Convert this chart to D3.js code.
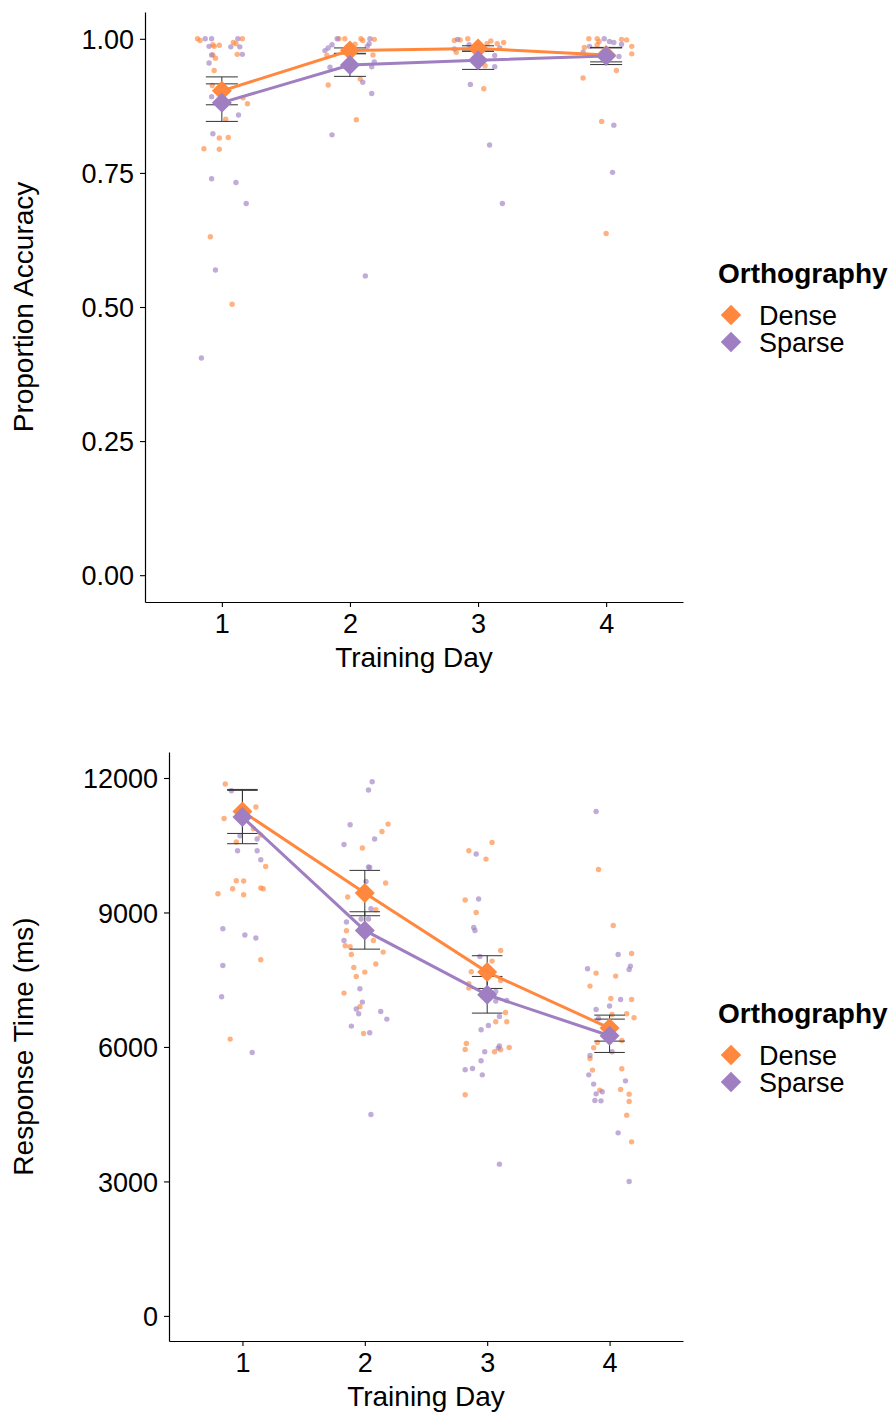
<!DOCTYPE html>
<html>
<head>
<meta charset="utf-8">
<script src="https://cdn.jsdelivr.net/npm/d3@7"></script>
<style>
  body { margin: 0; background: #fff; }
  text { font-family: "Liberation Sans", Arial, sans-serif; fill: #000; }
</style>
</head>
<body>
<script>
// categories
var days = [1, 2, 3, 4];
var groups = ["Dense", "Sparse"];
var colors = { Dense: "#FF883E", Sparse: "#9F7FC1" };

// accuracy means / standard errors
var accMeanDense = [0.903, 0.978, 0.982, 0.970];
var accSeDense = [0.026, 0.005, 0.005, 0.013];
var accMeanSparse = [0.881, 0.951, 0.960, 0.968];
var accSeSparse = [0.035, 0.021, 0.017, 0.016];

// response time means / standard errors
var rtMeanDense = [11254, 9433, 7670, 6420];
var rtSeDense = [491, 506, 365, 290];
var rtMeanSparse = [11129, 8599, 7164, 6249];
var rtSeSparse = [595, 417, 409, 372];

// individual participants: [day, jitter, value]
var accPtsDense = [
  [1,-0.19,1.00],[1,-0.17,0.997],[1,0.16,1.00],[1,0.09,0.993],[1,0.11,0.991],[1,-0.07,0.989],[1,-0.06,0.986],
  [1,-0.02,0.988],[1,-0.07,0.970],[1,-0.05,0.964],[1,0.12,0.971],[1,-0.06,0.941],[1,-0.075,0.913],[1,0.165,0.890],
  [1,0.20,0.879],[1,0.03,0.850],[1,-0.02,0.815],[1,0.05,0.816],[1,-0.14,0.795],[1,-0.02,0.794],[1,-0.09,0.631],[1,0.08,0.505],
  [2,-0.086,1.00],[2,-0.04,1.00],[2,0.086,1.00],[2,0.10,0.997],[2,0.19,0.999],[2,-0.18,0.969],[2,0.18,0.970],
  [2,0.08,0.925],[2,-0.17,0.914],[2,0.05,0.849],[2,-0.02,0.985],[2,0.04,0.990],
  [3,-0.185,0.997],[3,-0.14,0.998],[3,-0.08,1.00],[3,0.07,0.991],[3,0.10,0.996],[3,0.15,0.991],[3,0.20,0.993],
  [3,-0.17,0.975],[3,0.055,0.950],[3,0.045,0.907],
  [4,-0.135,1.00],[4,-0.07,1.00],[4,-0.055,0.995],[4,0.12,0.999],[4,0.16,0.998],[4,0.20,0.986],[4,0.20,0.972],
  [4,-0.17,0.984],[4,-0.07,0.989],[4,0.08,0.941],[4,-0.18,0.927],[4,-0.035,0.846],[4,0.00,0.637]
];
var accPtsSparse = [
  [1,-0.13,1.00],[1,-0.08,1.00],[1,0.125,1.00],[1,-0.10,0.986],[1,0.07,0.985],[1,0.14,0.985],[1,-0.08,0.970],
  [1,0.16,0.971],[1,-0.10,0.955],[1,-0.08,0.892],[1,0.13,0.858],[1,-0.07,0.823],[1,-0.08,0.739],[1,0.11,0.732],
  [1,0.19,0.693],[1,-0.05,0.569],[1,-0.16,0.405],
  [2,0.156,1.00],[2,-0.10,1.00],[2,0.15,0.991],[2,0.135,0.986],[2,-0.14,0.989],[2,-0.17,0.983],[2,-0.195,0.978],
  [2,-0.156,0.947],[2,0.19,0.957],[2,0.17,0.948],[2,0.10,0.919],[2,0.17,0.898],[2,-0.14,0.821],[2,0.12,0.558],
  [3,-0.16,0.999],[3,-0.07,0.989],[3,0.17,0.983],[3,-0.185,0.981],[3,0.13,0.969],[3,0.13,0.948],[3,0.015,0.978],
  [3,-0.06,0.915],[3,0.09,0.802],[3,0.19,0.693],
  [4,-0.015,1.00],[4,0.026,0.995],[4,0.06,0.993],[4,0.12,0.990],[4,-0.18,0.975],[4,-0.13,0.986],[4,0.10,0.967],
  [4,0.06,0.839],[4,0.05,0.751]
];
var rtPtsDense = [
  [1,-0.14,11865],[1,0.11,11352],[1,-0.15,11098],[1,0.09,10868],[1,0.15,10727],[1,-0.05,10571],[1,0.19,10027],
  [1,-0.05,9708],[1,0.01,9701],[1,-0.08,9529],[1,-0.20,9418],[1,0.01,9395],[1,0.15,9545],[1,0.17,9529],
  [1,0.15,7945],[1,-0.10,6175],
  [2,0.19,10972],[2,0.14,10808],[2,-0.02,10437],[2,0.17,9656],[2,-0.14,9344],[2,0.09,9060],[2,-0.15,8592],
  [2,0.07,8376],[2,-0.16,8257],[2,-0.12,8235],[2,-0.11,8063],[2,0.15,8116],[2,0.09,7849],[2,-0.09,7773],
  [2,0.00,7670],[2,-0.07,7572],[2,-0.17,7201],[2,-0.04,6896],[2,-0.01,6300],
  [3,-0.15,10377],[3,0.04,10563],[3,-0.01,10191],[3,-0.18,9277],[3,-0.09,9001],[3,0.11,8153],[3,0.04,7915],
  [3,-0.13,7677],[3,-0.15,7409],[3,-0.15,7313],[3,0.11,7483],[3,0.15,6769],[3,0.07,6561],[3,0.16,6561],
  [3,-0.17,6077],[3,-0.18,5943],[3,0.06,5892],[3,0.11,5936],[3,0.18,5988],[3,-0.18,4932],
  [4,-0.09,9960],[4,0.03,8710],[4,0.18,8085],[4,-0.11,7648],[4,0.05,7581],[4,-0.16,7358],[4,0.01,7082],
  [4,0.18,7059],[4,0.14,6740],[4,0.20,6650],[4,0.02,6724],[4,0.10,6144],[4,-0.10,6099],[4,-0.13,5981],
  [4,-0.16,5742],[4,-0.14,5483],[4,0.10,5512],[4,0.09,5050],[4,-0.08,5037],[4,0.16,4947],[4,0.16,4783],
  [4,0.14,4479],[4,0.18,3883]
];
var rtPtsSparse = [
  [1,-0.09,11716],[1,-0.02,10712],[1,0.12,10638],[1,-0.04,10377],[1,0.12,10377],[1,0.15,10176],[1,-0.16,8636],
  [1,0.02,8496],[1,0.11,8429],[1,-0.16,7818],[1,-0.17,7119],[1,0.08,5876],
  [2,0.06,11917],[2,0.03,11732],[2,-0.12,10957],[2,-0.17,10518],[2,0.08,10638],[2,0.04,10005],[2,0.03,10013],
  [2,0.01,9693],[2,0.05,9083],[2,-0.03,8853],[2,0.03,8853],[2,-0.15,8786],[2,-0.17,8376],[2,-0.04,7297],
  [2,-0.02,7001],[2,-0.07,6845],[2,-0.05,6740],[2,0.13,6791],[2,0.18,6621],[2,-0.11,6465],[2,0.04,6316],[2,0.05,4492],
  [3,-0.09,10303],[3,-0.07,9299],[3,-0.11,8666],[3,-0.10,8599],[3,-0.06,8019],[3,0.07,7238],[3,0.07,7023],
  [3,0.16,7037],[3,0.10,6680],[3,0.01,6479],[3,-0.05,6383],[3,-0.02,5892],[3,0.09,5974],[3,0.10,6025],
  [3,-0.05,5691],[3,-0.18,5490],[3,-0.12,5519],[3,-0.04,5378],[3,0.10,3385],
  [4,-0.11,11254],[4,0.07,8063],[4,0.17,7804],[4,0.16,7729],[4,-0.18,7744],[4,0.09,7059],[4,0.00,6912],
  [4,-0.11,6836],[4,-0.09,6635],[4,0.02,5892],[4,-0.16,5809],[4,-0.17,5378],[4,0.13,5244],[4,-0.13,5171],
  [4,-0.06,4999],[4,-0.11,4954],[4,-0.12,4805],[4,-0.07,4798],[4,0.07,4084],[4,0.16,2997]
];

// tick labels
var accTicks = [0, 0.25, 0.5, 0.75, 1];
var rtTicks = [0, 3000, 6000, 9000, 12000];

var svg = d3.select("body").append("svg")
    .attr("width", 892)
    .attr("height", 1414);

function drawPanel(p) {

    var x = d3.scaleLinear().domain([0.4, 4.6]).range([p.left, p.right]);
    var y = d3.scaleLinear().domain(p.yDomain).range([p.bottom, p.top]);
    var g = svg.append("g");

    // jittered participant points
    groups.forEach(function (grp) {
        g.append("g").selectAll("circle")
            .data(p.pts[grp])
            .enter().append("circle")
            .attr("cx", function (d) { return x(d[0] + d[1]); })
            .attr("cy", function (d) { return y(d[2]); })
            .attr("r", 2.7)
            .attr("fill", colors[grp])
            .attr("fill-opacity", 0.65);
    });

    // summary rows
    var summ = {};
    groups.forEach(function (grp) {
        summ[grp] = days.map(function (day, i) {
            return { day: day, m: p.mean[grp][i], se: p.se[grp][i] };
        });
    });

    // error bars
    groups.forEach(function (grp) {
        var eb = g.append("g").selectAll("g").data(summ[grp]).enter().append("g")
            .attr("stroke", "#333").attr("stroke-width", 1).attr("fill", "none");
        eb.append("line")
            .attr("x1", function (d) { return x(d.day); }).attr("x2", function (d) { return x(d.day); })
            .attr("y1", function (d) { return y(d.m - d.se); }).attr("y2", function (d) { return y(d.m + d.se); });
        eb.append("line")
            .attr("x1", function (d) { return x(d.day - 0.125); }).attr("x2", function (d) { return x(d.day + 0.125); })
            .attr("y1", function (d) { return y(d.m - d.se); }).attr("y2", function (d) { return y(d.m - d.se); });
        eb.append("line")
            .attr("x1", function (d) { return x(d.day - 0.125); }).attr("x2", function (d) { return x(d.day + 0.125); })
            .attr("y1", function (d) { return y(d.m + d.se); }).attr("y2", function (d) { return y(d.m + d.se); });
    });

    // mean lines + diamonds
    var line = d3.line().x(function (d) { return x(d.day); }).y(function (d) { return y(d.m); });
    groups.forEach(function (grp) {
        g.append("path")
            .datum(summ[grp])
            .attr("d", line)
            .attr("fill", "none")
            .attr("stroke", colors[grp])
            .attr("stroke-width", 3);
    });
    var diamond = d3.symbol().type(d3.symbolSquare).size(200);
    groups.forEach(function (grp) {
        g.append("g").selectAll("path")
            .data(summ[grp])
            .enter().append("path")
            .attr("d", diamond)
            .attr("transform", function (d) { return "translate(" + x(d.day) + "," + y(d.m) + ") rotate(45)"; })
            .attr("fill", colors[grp]);
    });

    // axes
    var yAxis = g.append("g")
        .attr("transform", "translate(" + p.left + ",0)")
        .call(d3.axisLeft(y).tickValues(p.ticks).tickFormat(p.fmt).tickSize(5).tickSizeOuter(0).tickPadding(6));
    var xAxis = g.append("g")
        .attr("transform", "translate(0," + p.bottom + ")")
        .call(d3.axisBottom(x).tickValues(days).tickFormat(d3.format("d")).tickSize(5).tickSizeOuter(0).tickPadding(7));
    [yAxis, xAxis].forEach(function (a) {
        a.select(".domain").attr("stroke", "#000").attr("stroke-width", 1.2);
        a.selectAll(".tick line").attr("stroke", "#000").attr("stroke-width", 1.1);
        a.selectAll(".tick text").style("font-size", "27px").attr("fill", "#000")
            .style("font-family", "'Liberation Sans', Arial, sans-serif");
    });
    yAxis.selectAll(".tick text").attr("dy", "0.36em");

    // axis titles
    g.append("text")
        .attr("transform", "translate(33," + (p.top + p.bottom) / 2 + ") rotate(-90)")
        .attr("text-anchor", "middle")
        .style("font-size", "28px")
        .text(p.yTitle);
    g.append("text")
        .attr("x", (p.left + p.right) / 2)
        .attr("y", p.bottom + 65)
        .attr("text-anchor", "middle")
        .style("font-size", "28px")
        .text("Training Day");

    // legend
    var lg = g.append("g").attr("transform", "translate(718," + (p.top + 271) + ")");
    lg.append("text")
        .style("font-size", "28px")
        .style("font-weight", "bold")
        .text("Orthography");
    groups.forEach(function (grp, i) {
        lg.append("path")
            .attr("d", d3.symbol().type(d3.symbolSquare).size(210))
            .attr("transform", "translate(13," + (32 + i * 27) + ") rotate(45)")
            .attr("fill", colors[grp]);
        lg.append("text")
            .attr("x", 41)
            .attr("y", 42 + i * 27)
            .style("font-size", "27px")
            .text(grp);
    });
}

drawPanel({
    top: 12, bottom: 602, left: 145, right: 683,
    yDomain: [-0.05, 1.05], ticks: accTicks, fmt: d3.format(".2f"),
    yTitle: "Proportion Accuracy",
    pts: { Dense: accPtsDense, Sparse: accPtsSparse },
    mean: { Dense: accMeanDense, Sparse: accMeanSparse },
    se: { Dense: accSeDense, Sparse: accSeSparse }
});

drawPanel({
    top: 752, bottom: 1341, left: 169, right: 683,
    yDomain: [-560, 12580], ticks: rtTicks, fmt: d3.format("d"),
    yTitle: "Response Time (ms)",
    pts: { Dense: rtPtsDense, Sparse: rtPtsSparse },
    mean: { Dense: rtMeanDense, Sparse: rtMeanSparse },
    se: { Dense: rtSeDense, Sparse: rtSeSparse }
});
</script>
</body>
</html>
